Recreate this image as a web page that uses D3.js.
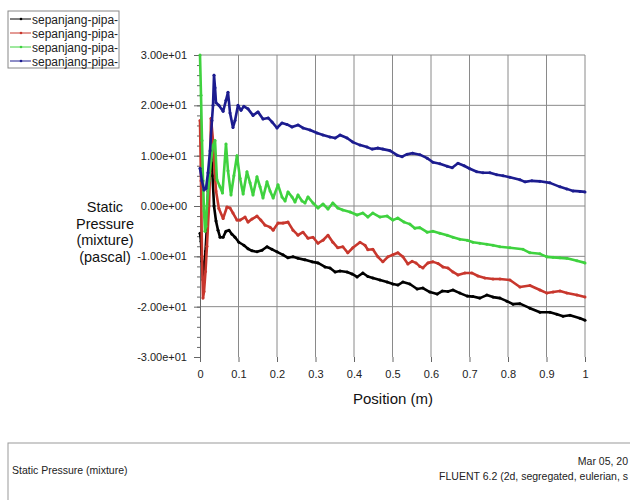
<!DOCTYPE html>
<meta charset="utf-8">
<script src="https://d3js.org/d3.v7.min.js"></script>
<style>
  body { margin: 0; background: #fff; }
  text { font-family: "Liberation Sans", Arial, sans-serif; }
</style>
<div id="chart"></div>
<script>

// data: [position (m), static pressure (pa)]
var seriesNames = ["sepanjang-pipa-", "sepanjang-pipa-", "sepanjang-pipa-", "sepanjang-pipa-"];
var seriesColors = ["#000000", "#c8372d", "#3fd23f", "#1c1c8f"];

var black = [[0,-5.4],[0.0026,-7],[0.0052,-11],[0.0078,-14.7],[0.0104,-13],[0.0143,-9],[0.018,-4],[0.0208,3],
  [0.0247,7.5],[0.0286,11],[0.0325,6],[0.0364,0],[0.0416,-3],[0.0468,-4.8],[0.052,-6.2],[0.06,-6.2],[0.0675,-5],
  [0.0753,-4.8],[0.083,-5.6],[0.091,-6.2],[0.101,-7.2],[0.114,-7.8],[0.1247,-8.5],[0.135,-8.9],[0.148,-9.1],
  [0.161,-8.8],[0.174,-8.1],[0.187,-8.6],[0.2,-9.1],[0.2156,-9.7],[0.2286,-10.3],[0.2416,-10.1],[0.2545,-10.4],
  [0.2727,-10.7],[0.291,-11.1],[0.3065,-11.3],[0.3247,-12.1],[0.3377,-12.3],[0.351,-13.1],[0.3636,-12.9],
  [0.382,-13.1],[0.395,-13.5],[0.408,-14.1],[0.423,-13.3],[0.436,-14],[0.449,-14.3],[0.4675,-14.7],[0.486,-15.1],
  [0.501,-15.5],[0.514,-15.7],[0.527,-15.1],[0.545,-15.5],[0.564,-16.5],[0.579,-16.3],[0.597,-17.1],[0.616,-17.5],
  [0.629,-16.9],[0.644,-17],[0.657,-16.7],[0.675,-17.3],[0.694,-17.9],[0.709,-18],[0.727,-18.3],[0.745,-17.7],
  [0.761,-18.1],[0.779,-18.3],[0.797,-18.9],[0.813,-19.5],[0.831,-19.4],[0.857,-20.3],[0.883,-21.1],[0.909,-21.1],
  [0.927,-21.5],[0.943,-21.9],[0.961,-21.7],[0.987,-22.3],[1,-22.7]];

var red = [[0,17],[0.0026,5],[0.0052,-10],[0.0078,-18.3],[0.0104,-17],[0.0143,-13],[0.018,-8],[0.0234,0],
  [0.026,6.6],[0.0286,17.4],[0.0338,13],[0.0377,7.2],[0.0416,3],[0.049,-0.5],[0.06,-2.5],[0.07,-0.2],[0.078,-0.4],
  [0.0857,-1.4],[0.096,-2.8],[0.104,-2.8],[0.117,-2.2],[0.1247,-3.2],[0.135,-2.6],[0.148,-2],[0.158,-2.8],
  [0.169,-3.8],[0.182,-4.2],[0.19,-4.8],[0.2026,-3.4],[0.2156,-3.4],[0.2286,-3.2],[0.2416,-4.8],[0.2545,-5.8],
  [0.2675,-5.2],[0.2805,-6.4],[0.2935,-6.2],[0.3065,-7.4],[0.3195,-6.8],[0.3325,-5.8],[0.345,-7.2],[0.358,-8.3],
  [0.371,-8.1],[0.384,-9.3],[0.397,-8.3],[0.4156,-7.2],[0.4286,-7.8],[0.436,-8.7],[0.449,-8.6],[0.462,-10.1],
  [0.475,-11.1],[0.488,-10.1],[0.501,-9.7],[0.514,-9.3],[0.527,-10.1],[0.54,-11.5],[0.551,-11],[0.561,-11.3],
  [0.571,-12],[0.579,-12.3],[0.592,-11.3],[0.605,-11.1],[0.618,-11.4],[0.631,-12.1],[0.644,-12.3],[0.657,-13.1],
  [0.67,-13.7],[0.688,-13.3],[0.706,-13.3],[0.722,-13.9],[0.74,-14.3],[0.761,-14.5],[0.779,-14.5],[0.805,-14.7],
  [0.831,-16.1],[0.857,-15.8],[0.883,-16.7],[0.901,-17.3],[0.917,-17.1],[0.935,-16.9],[0.953,-17.3],[0.979,-17.7],
  [1,-18.1]];

var green = [[0,30],[0.0026,22],[0.0052,13],[0.0078,5],[0.0104,-1],[0.013,-5],[0.0156,-4],[0.018,0],[0.0234,5],
  [0.0286,9],[0.0338,12],[0.039,13],[0.044,5.2],[0.052,3.8],[0.0584,2.6],[0.0675,12.3],[0.0727,7],[0.0805,2.2],
  [0.088,6],[0.096,10],[0.104,5.5],[0.112,2.4],[0.122,6.8],[0.13,4.6],[0.1377,2.2],[0.148,5.8],[0.156,3.8],
  [0.1636,1.6],[0.174,4.8],[0.182,3],[0.19,1.6],[0.2026,4.2],[0.213,1.8],[0.221,1],[0.2286,2.8],[0.239,1.8],
  [0.2468,0.8],[0.2545,2.2],[0.265,1],[0.2727,0.6],[0.2805,1.8],[0.2935,0.6],[0.3065,-0.4],[0.3195,0.4],
  [0.3325,-0.6],[0.345,0.6],[0.358,-0.4],[0.371,-0.8],[0.39,-1.2],[0.408,-1.8],[0.423,-1.4],[0.436,-2.2],
  [0.449,-1.4],[0.4675,-2.2],[0.486,-2],[0.501,-2.8],[0.514,-2.4],[0.53,-3.2],[0.545,-3.6],[0.558,-4.4],
  [0.571,-4.3],[0.59,-5.2],[0.605,-5],[0.623,-5.4],[0.642,-5.8],[0.657,-6.2],[0.675,-6.6],[0.694,-6.8],
  [0.709,-7.2],[0.727,-7.4],[0.745,-7.6],[0.761,-7.8],[0.779,-8.1],[0.805,-8.3],[0.839,-8.6],[0.857,-9.3],
  [0.883,-9.5],[0.901,-10.1],[0.917,-10.2],[0.935,-10.3],[0.953,-10.4],[0.979,-10.9],[1,-11.3]];

var blue = [[0,7.5],[0.005,5],[0.0104,3.2],[0.0156,3.5],[0.0208,6.6],[0.026,11],[0.031,17],[0.0338,20],
  [0.0364,26],[0.039,23.5],[0.0416,20.5],[0.049,20],[0.06,18.8],[0.0675,21],[0.0727,22.6],[0.078,18.5],
  [0.0857,15.6],[0.091,17],[0.0987,20],[0.1065,19],[0.114,19.8],[0.1247,19.3],[0.1377,18],[0.1506,18.7],
  [0.1636,17.3],[0.177,17.5],[0.187,16.7],[0.2,15.5],[0.213,16.5],[0.226,16.2],[0.239,15.7],[0.2545,16.1],
  [0.2675,15.5],[0.2857,15.1],[0.304,14.5],[0.3195,14.1],[0.3377,13.7],[0.351,13.5],[0.3636,14.1],[0.382,13.5],
  [0.397,12.7],[0.4156,12.1],[0.434,11.7],[0.447,11.3],[0.462,11.5],[0.475,11.3],[0.4935,11],[0.512,10.1],
  [0.525,9.8],[0.538,10.3],[0.553,10.5],[0.571,10.2],[0.59,9.5],[0.605,8.7],[0.623,8.4],[0.642,7.9],
  [0.655,7.6],[0.67,8.5],[0.686,8],[0.701,7.4],[0.719,6.8],[0.735,6.6],[0.753,6.6],[0.771,6.2],[0.787,6],
  [0.805,5.7],[0.831,5.2],[0.844,4.8],[0.862,5],[0.883,4.9],[0.909,4.6],[0.935,3.8],[0.953,3.4],[0.969,3],
  [0.987,2.9],[1,2.8]];

var xTicks = [0, 0.1, 0.2, 0.3, 0.4, 0.5, 0.6, 0.7, 0.8, 0.9, 1];
var yTicks = [30, 20, 10, 0, -10, -20, -30];
var yTitle = ["Static", "Pressure", "(mixture)", "(pascal)"];

var allSeries = [black, red, green, blue];

var svg = d3.select("#chart")
  .append("svg")
    .attr("width", 630)
    .attr("height", 500);

var x = d3.scaleLinear().domain([0, 1]).range([200, 585]);
var y = d3.scaleLinear().domain([-30, 30]).range([357, 55]);

// grid lines
svg.append("g")
  .selectAll("line")
  .data(yTicks.filter(function(d) { return d > -30; }))
  .enter().append("line")
    .attr("x1", x(0)).attr("x2", x(1))
    .attr("y1", function(d) { return y(d); })
    .attr("y2", function(d) { return y(d); })
    .attr("stroke", "#8a8a8a");

svg.append("g")
  .selectAll("line")
  .data(xTicks.slice(1))
  .enter().append("line")
    .attr("x1", function(d) { return x(d); })
    .attr("x2", function(d) { return x(d); })
    .attr("y1", y(30)).attr("y2", y(-30))
    .attr("stroke", "#8a8a8a");

// y axis with minor ticks
var yAxisG = svg.append("g")
  .attr("transform", "translate(" + x(0) + ",0)")
  .call(d3.axisLeft(y).tickValues(d3.range(-30, 31, 2)).tickSize(3).tickFormat(""));
yAxisG.select(".domain").remove();
yAxisG.selectAll("line").attr("stroke", "#666");

// scientific labels like 3.00e+01, with a plain hyphen for negatives
function sci(d) {
  return d3.format(".2e")(d).replace(/e([+-])(\d)$/, "e$10$2").replace("\u2212", "-");
}

var yAxisMajor = svg.append("g")
  .attr("transform", "translate(" + x(0) + ",0)")
  .call(d3.axisLeft(y).tickValues(yTicks).tickSize(6).tickPadding(7).tickFormat(sci));
yAxisMajor.select(".domain").attr("stroke", "#666");
yAxisMajor.selectAll("line").attr("stroke", "#666");
yAxisMajor.selectAll("text").attr("font-size", 11).attr("fill", "#222")
  .attr("font-family", "'Liberation Sans', Arial, sans-serif");

// x axis ticks (no base line)
var xAxisG = svg.append("g")
  .attr("transform", "translate(0," + y(-30) + ")")
  .call(d3.axisBottom(x).tickValues(xTicks).tickSize(5).tickPadding(8).tickFormat(d3.format("")));
xAxisG.select(".domain").remove();
xAxisG.selectAll("line").attr("stroke", "#666");
xAxisG.selectAll("text").attr("font-size", 11).attr("fill", "#222")
  .attr("font-family", "'Liberation Sans', Arial, sans-serif");

// axis titles
svg.append("text")
  .attr("x", 393).attr("y", 404)
  .attr("text-anchor", "middle")
  .attr("font-size", 15)
  .attr("fill", "#111")
  .text("Position (m)");

svg.append("g")
  .selectAll("text")
  .data(yTitle)
  .enter().append("text")
    .attr("x", 105)
    .attr("y", function(d, i) { return 212 + i * 16.5; })
    .attr("text-anchor", "middle")
    .attr("font-size", 14.5)
    .attr("fill", "#111")
    .text(function(d) { return d; });

// lines
var line = d3.line()
  .x(function(d) { return x(d[0]); })
  .y(function(d) { return y(d[1]); });

allSeries.forEach(function(s, i) {
  svg.append("path")
    .datum(s)
    .attr("fill", "none")
    .attr("stroke", seriesColors[i])
    .attr("stroke-width", 2.6)
    .attr("stroke-linejoin", "round")
    .attr("d", line);

  svg.append("g")
    .selectAll("circle")
    .data(s)
    .enter().append("circle")
      .attr("cx", function(d) { return x(d[0]); })
      .attr("cy", function(d) { return y(d[1]); })
      .attr("r", 1.5)
      .attr("fill", seriesColors[i]);
});

// legend
var legend = svg.append("g");
legend.append("rect")
  .attr("x", 8).attr("y", 11)
  .attr("width", 111).attr("height", 57)
  .attr("fill", "#fff")
  .attr("stroke", "#888");

seriesNames.forEach(function(name, i) {
  var ly = 19 + i * 14;
  legend.append("line")
    .attr("x1", 10).attr("x2", 31)
    .attr("y1", ly).attr("y2", ly)
    .attr("stroke", seriesColors[i]);
  legend.append("circle")
    .attr("cx", 21).attr("cy", ly).attr("r", 1.3)
    .attr("fill", seriesColors[i]);
  legend.append("text")
    .attr("x", 32).attr("y", ly + 4.5)
    .attr("font-size", 12)
    .attr("fill", "#222")
    .text(name);
});

// footer box (the right-hand text is cut at the page edge in the original)
var footer = svg.append("g");
footer.append("rect")
  .attr("x", 8).attr("y", 443)
  .attr("width", 640).attr("height", 60)
  .attr("fill", "none")
  .attr("stroke", "#999");
footer.append("text")
  .attr("x", 12).attr("y", 474)
  .attr("font-size", 10.5)
  .attr("fill", "#222")
  .text("Static Pressure (mixture)");
footer.append("text")
  .attr("x", 628).attr("y", 465)
  .attr("text-anchor", "end")
  .attr("font-size", 10.5)
  .attr("fill", "#222")
  .text("Mar 05, 20");
footer.append("text")
  .attr("x", 628).attr("y", 480)
  .attr("text-anchor", "end")
  .attr("font-size", 10.5)
  .attr("fill", "#222")
  .text("FLUENT 6.2 (2d, segregated, eulerian, s");

</script>
